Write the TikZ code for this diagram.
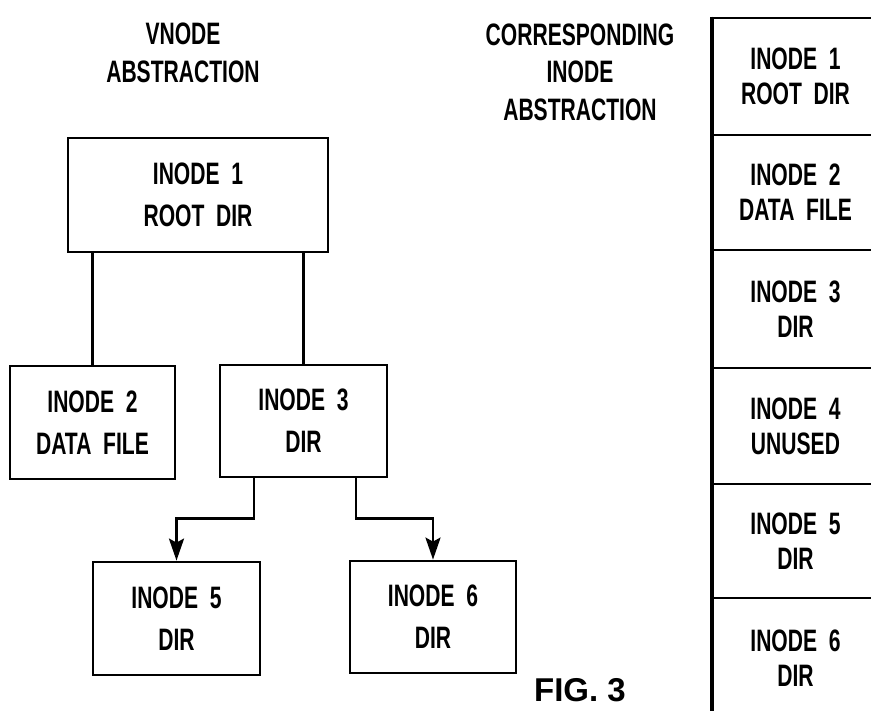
\documentclass[tikz,border=0pt]{standalone}
\usepackage{fontspec}
\setmainfont{Liberation Sans}[FakeStretch=0.68]
\newfontfamily\figfont{Liberation Sans}[FakeStretch=1.0]
\usetikzlibrary{arrows.meta,calc}
\begin{document}
\begin{tikzpicture}[x=1pt,y=-1pt,
  line width=2.8pt,
  hdr/.style={align=center,inner sep=0pt,font=\bfseries\fontsize{31}{37.5}\selectfont},
  vbox/.style={draw,align=center,inner sep=0pt,font=\bfseries\fontsize{31}{42}\selectfont},
  cell/.style={draw,align=center,inner sep=0pt,minimum width=165pt,font=\bfseries\fontsize{31}{35}\selectfont},
  conn/.style={-{Stealth[length=22pt,width=15pt,inset=4pt]}}]
\useasboundingbox (0,0) rectangle (871,711);
\clip (0,0) rectangle (871,711);
% headers
\node[hdr] (h1) at (183,53) {VNODE\\ABSTRACTION};
\node[hdr] (h2) at (580,72) {CORRESPONDING\\INODE\\ABSTRACTION};
% vnode tree
\node[vbox,minimum width=260pt,minimum height=114pt] (root) at (198,195) {INODE~~1\\ROOT~~DIR};
\node[vbox,minimum width=165pt,minimum height=113pt] (n2) at (92.5,422.5) {INODE~~2\\DATA~~FILE};
\node[vbox,minimum width=167pt,minimum height=112pt] (n3) at (303.5,421) {INODE~~3\\DIR};
\node[vbox,minimum width=167pt,minimum height=113pt] (n5) at (176.5,618.5) {INODE~~5\\DIR};
\node[vbox,minimum width=166pt,minimum height=112pt] (n6) at (433,617) {INODE~~6\\DIR};
\draw (n2.north |- root.south) -- (n2.north);
\draw (n3.north |- root.south) -- (n3.north);
\draw[conn] ($(n3.south)+(-49.5,0)$) -- ++(0,40) -| (n5.north);
\draw[conn] ($(n3.south)+(52.5,0)$) -- ++(0,40) -| (n6.north);
% inode table
\node[cell,minimum height=117pt] (c1) at (795.5,76.5) {INODE~~1\\ROOT~~DIR};
\node[cell,minimum height=115pt] (c2) at (795.5,192.5) {INODE~~2\\DATA~~FILE};
\node[cell,minimum height=118pt] (c3) at (795.5,309) {INODE~~3\\DIR};
\node[cell,minimum height=116pt] (c4) at (795.5,426) {INODE~~4\\UNUSED};
\node[cell,minimum height=114pt] (c5) at (795.5,541) {INODE~~5\\DIR};
\node[cell,minimum height=120pt] (c6) at (795.5,658) {INODE~~6\\DIR};
\draw[line width=3.5pt] (c1.north west) -- (c6.south west);
% figure label
\node[anchor=south,inner sep=0pt,font=\figfont\bfseries\fontsize{33}{33}\selectfont] (fig) at (580,703) {FIG.~3};
\end{tikzpicture}
\end{document}
